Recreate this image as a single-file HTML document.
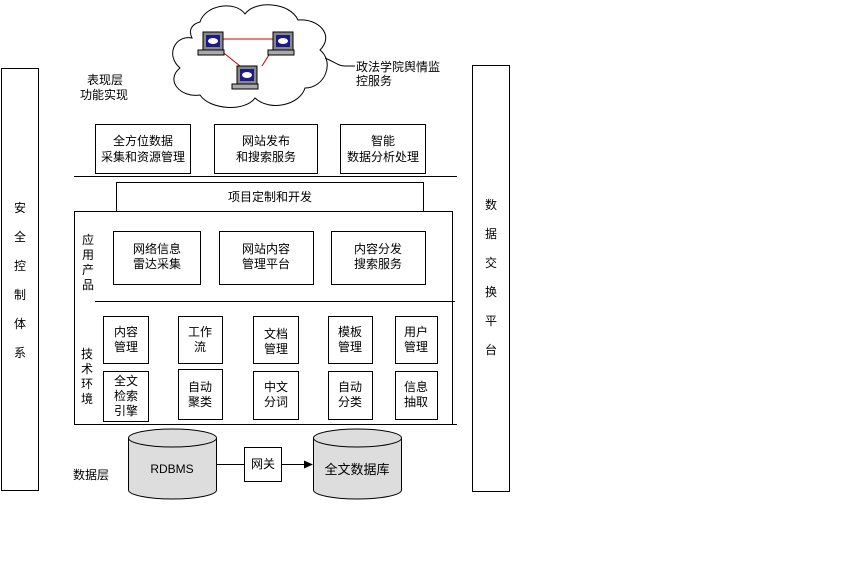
<!DOCTYPE html>
<html><head><meta charset="utf-8"><style>
html,body{margin:0;padding:0;background:#fff;}
svg text{font-family:"Liberation Sans","Noto Sans CJK SC",sans-serif;font-size:12px;fill:#000;}
</style></head><body>
<svg width="864" height="557" viewBox="0 0 864 557" xmlns="http://www.w3.org/2000/svg">
<g fill="none" stroke="#000" stroke-width="1">
<!-- cloud -->
<path d="M200,22 C205,5 235,0 245,14 C255,0 290,2 298,20 C318,18 335,35 320,50 C335,62 325,88 305,88 C300,105 270,112 255,98 C245,112 210,110 200,95 C180,98 165,80 180,68 C165,55 175,35 192,38 C188,30 192,24 200,22 Z"/>
<path d="M325,58 C335,62 338,66 345,66 L355,66"/>
<rect x="1.5" y="68.5" width="37" height="422"/>
<rect x="472.5" y="65.5" width="37" height="426"/>
<rect x="95.5" y="124.5" width="95" height="49"/>
<rect x="214.5" y="124.5" width="103" height="49"/>
<rect x="340.5" y="124.5" width="85" height="49"/>
<line x1="74" y1="176.5" x2="457" y2="176.5"/>
<rect x="116.5" y="182.5" width="307" height="29"/>
<rect x="74.5" y="211.5" width="378" height="213"/>
<line x1="95" y1="301.5" x2="455" y2="301.5"/>
<rect x="113.5" y="231.5" width="87" height="53"/>
<rect x="219.5" y="231.5" width="94" height="53"/>
<rect x="331.5" y="231.5" width="94" height="53"/>
<rect x="103.5" y="316.5" width="45" height="47"/>
<rect x="178.5" y="316.5" width="44" height="47"/>
<rect x="253.5" y="316.5" width="45" height="47"/>
<rect x="328.5" y="316.5" width="44" height="47"/>
<rect x="395.5" y="316.5" width="42" height="47"/>
<rect x="103.5" y="371.5" width="45" height="50"/>
<rect x="178.5" y="369.5" width="44" height="50"/>
<rect x="253.5" y="371.5" width="45" height="48"/>
<rect x="328.5" y="371.5" width="44" height="48"/>
<rect x="395.5" y="371.5" width="42" height="48"/>
<line x1="74" y1="424.5" x2="457" y2="424.5"/>
<!-- cylinders -->
<path d="M128.5,438 L128.5,490 A44,9 0 0 0 216.5,490 L216.5,438" fill="#ddd"/>
<ellipse cx="172.5" cy="438" rx="44" ry="9" fill="#ddd"/>
<path d="M313.5,438 L313.5,490 A44,9 0 0 0 401.5,490 L401.5,438" fill="#ddd"/>
<ellipse cx="357.5" cy="438" rx="44" ry="9" fill="#ddd"/>
<rect x="244.5" y="447.5" width="37" height="34"/>
<line x1="216" y1="464.5" x2="244" y2="464.5"/>
<line x1="282" y1="464.5" x2="305" y2="464.5"/>
</g>
<polygon points="313,464.5 304,460.5 304,468.5" fill="#000"/>
<!-- network -->
<g stroke="#c00" stroke-width="1">
<line x1="222" y1="39" x2="273" y2="39"/>
<line x1="220" y1="50" x2="240" y2="66"/>
<line x1="262" y1="66" x2="272" y2="50"/>
</g>
<g>
<rect x="203" y="32" width="20" height="18" fill="#888" stroke="#000"/><rect x="206" y="35" width="14" height="12" fill="#1a1a8a"/><ellipse cx="213" cy="41" rx="5" ry="3" fill="#fff"/><rect x="198" y="50" width="26" height="5" fill="#aaa" stroke="#000"/>
<rect x="273" y="32" width="20" height="18" fill="#888" stroke="#000"/><rect x="276" y="35" width="14" height="12" fill="#1a1a8a"/><ellipse cx="283" cy="41" rx="5" ry="3" fill="#fff"/><rect x="268" y="50" width="26" height="5" fill="#aaa" stroke="#000"/>
<rect x="237" y="66" width="20" height="18" fill="#888" stroke="#000"/><rect x="240" y="69" width="14" height="12" fill="#1a1a8a"/><ellipse cx="247" cy="75" rx="5" ry="3" fill="#fff"/><rect x="232" y="84" width="26" height="5" fill="#aaa" stroke="#000"/>
</g>
<text x="356" y="71">政法学院舆情监</text>
<text x="356" y="85">控服务</text>
<text x="87" y="84">表现层</text>
<text x="80" y="99">功能实现</text>
<g text-anchor="middle">
<text x="20" y="212">安</text><text x="20" y="241">全</text><text x="20" y="270">控</text><text x="20" y="299">制</text><text x="20" y="328">体</text><text x="20" y="357">系</text>
<text x="491" y="209">数</text><text x="491" y="238">据</text><text x="491" y="267">交</text><text x="491" y="296">换</text><text x="491" y="325">平</text><text x="491" y="354">台</text>
<text x="143" y="145">全方位数据</text><text x="143" y="161">采集和资源管理</text>
<text x="266" y="145">网站发布</text><text x="266" y="161">和搜索服务</text>
<text x="383" y="145">智能</text><text x="383" y="161">数据分析处理</text>
<text x="270" y="201">项目定制和开发</text>
<text x="157" y="253">网络信息</text><text x="157" y="268">雷达采集</text>
<text x="266" y="253">网站内容</text><text x="266" y="268">管理平台</text>
<text x="378" y="253">内容分发</text><text x="378" y="268">搜索服务</text>
<text x="88" y="244">应</text><text x="88" y="259">用</text><text x="88" y="274">产</text><text x="88" y="289">品</text>
<text x="87" y="358">技</text><text x="87" y="373">术</text><text x="87" y="388">环</text><text x="87" y="403">境</text>
<text x="126" y="336">内容</text><text x="126" y="351">管理</text>
<text x="200" y="336">工作</text><text x="200" y="351">流</text>
<text x="276" y="338">文档</text><text x="276" y="353">管理</text>
<text x="350" y="336">模板</text><text x="350" y="351">管理</text>
<text x="416" y="336">用户</text><text x="416" y="351">管理</text>
<text x="126" y="385">全文</text><text x="126" y="400">检索</text><text x="126" y="415">引擎</text>
<text x="200" y="391">自动</text><text x="200" y="406">聚类</text>
<text x="276" y="391">中文</text><text x="276" y="406">分词</text>
<text x="350" y="391">自动</text><text x="350" y="406">分类</text>
<text x="416" y="391">信息</text><text x="416" y="406">抽取</text>
<text x="172" y="473">RDBMS</text>
<text x="357" y="474" style="font-size:13px">全文数据库</text>
<text x="263" y="468">网关</text>
</g>
<text x="73" y="479">数据层</text>
</svg>
</body></html>
